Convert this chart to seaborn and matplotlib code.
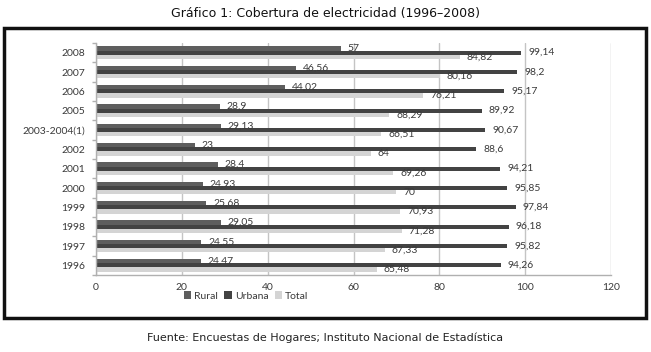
import pandas as pd
import numpy as np
import matplotlib
matplotlib.use("Agg")
import matplotlib.pyplot as plt
from matplotlib.patches import Rectangle
from matplotlib.ticker import FixedLocator
import seaborn as sns

sns.set_theme(style="white")
plt.rcParams["font.family"] = ["Lato", "DejaVu Sans"]

# ── Data ─────────────────────────────────────────────────────────────────────
years  = ["2008", "2007", "2006", "2005", "2003-2004(1)", "2002", "2001",
          "2000", "1999", "1998", "1997", "1996"]
rural  = [57, 46.56, 44.02, 28.9, 29.13, 23, 28.4, 24.93, 25.68, 29.05, 24.55, 24.47]
urbana = [99.14, 98.2, 95.17, 89.92, 90.67, 88.6, 94.21, 95.85, 97.84, 96.18, 95.82, 94.26]
total  = [84.82, 80.16, 76.21, 68.29, 66.51, 64, 69.26, 70, 70.93, 71.28, 67.33, 65.48]
series = ["Rural", "Urbana", "Total"]
COLORS = {"Rural": "#5e5e5e", "Urbana": "#434343", "Total": "#d4d4d4"}

df = pd.DataFrame({"year": years * 3,
                   "serie": np.repeat(series, len(years)),
                   "valor": rural + urbana + total})

# ── Figure ───────────────────────────────────────────────────────────────────
W, H = 651, 352
fig = plt.figure(figsize=(W / 100, H / 100), dpi=100)
ax = fig.add_axes([96 / W, 1 - 275 / H, 515 / W, 232 / H])

sns.barplot(data=df, x="valor", y="year", hue="serie", hue_order=series,
            order=years, orient="h", palette=COLORS, width=0.66,
            saturation=1, ax=ax, legend=True, edgecolor="none")

ax.set_xlim(0, 120)
ax.set_ylim(len(years) - 0.5, -0.5)
ax.set_xticks(range(0, 121, 20))
ax.xaxis.grid(True, color="#c4c4c4", linewidth=1)
ax.set_axisbelow(True)
ax.set_xlabel("")
ax.set_ylabel("")
for s in ["top", "right"]:
    ax.spines[s].set_visible(False)
for s in ["left", "bottom"]:
    ax.spines[s].set_color("#b0b0b0")
    ax.spines[s].set_linewidth(1)

ax.tick_params(axis="x", length=3, color="#b0b0b0", labelsize=7.5,
               labelcolor="#3a3a3a", pad=3)
ax.tick_params(axis="y", which="major", length=0, labelsize=7.5,
               labelcolor="#3a3a3a", pad=8)
ax.yaxis.set_minor_locator(FixedLocator(np.arange(-0.5, len(years), 1)))
ax.tick_params(axis="y", which="minor", length=3, color="#b0b0b0", left=True)

# data labels
for cont in ax.containers:
    labels = [f"{v:g}".replace(".", ",") for v in cont.datavalues]
    ax.bar_label(cont, labels=labels, padding=5, fontsize=7.5, color="#3a3a3a")

# legend
leg = ax.legend(loc="center", bbox_to_anchor=(246 / W, 1 - 296 / H),
                bbox_transform=fig.transFigure, ncol=3, frameon=False,
                fontsize=7.5, handlelength=0.7, handleheight=0.7,
                handletextpad=0.3, columnspacing=0.6)
for t in leg.get_texts():
    t.set_color("#3a3a3a")

# black frame
fig.add_artist(Rectangle((4 / W, 1 - 318 / H), 642 / W, 290 / H,
                         transform=fig.transFigure, fill=False,
                         edgecolor="#111111", linewidth=2.5))

fig.text(0.5, 1 - 13 / H, "Gráfico 1: Cobertura de electricidad (1996–2008)",
         ha="center", va="center", fontsize=9, color="#111111",
         family=["DejaVu Sans"])
fig.text(0.5, 1 - 338 / H,
         "Fuente: Encuestas de Hogares; Instituto Nacional de Estadística",
         ha="center", va="center", fontsize=8, color="#222222",
         family=["DejaVu Sans"])

plt.savefig("out.png", dpi=100)
plt.close()
